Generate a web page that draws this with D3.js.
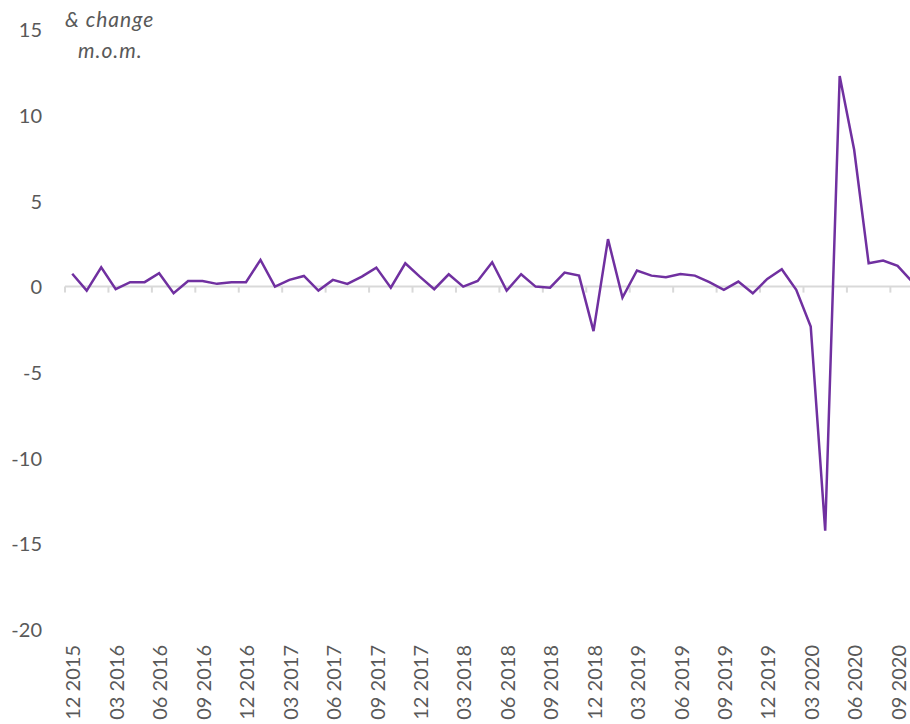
<!DOCTYPE html>
<meta charset="utf-8">
<title>% change m.o.m.</title>
<style>
    body {
        margin: 0;
        background: #fff;
    }

    .tick text {
        font-family: Lato, "Open Sans", sans-serif;
        font-size: 20px;
        fill: #595959;
    }

    .note {
        font-family: Lato, "Open Sans", sans-serif;
        font-size: 21px;
        font-style: italic;
        letter-spacing: 1px;
        fill: #595959;
    }
</style>

<body>
    <div id="chart"></div>

    <script src="https://cdn.jsdelivr.net/npm/d3@7"></script>
    <script>
        // monthly values, 12 2015 .. 10 2020
        var months = [
            "12 2015", "01 2016", "02 2016", "03 2016", "04 2016", "05 2016", "06 2016", "07 2016", "08 2016", "09 2016", "10 2016", "11 2016",
            "12 2016", "01 2017", "02 2017", "03 2017", "04 2017", "05 2017", "06 2017", "07 2017", "08 2017", "09 2017", "10 2017", "11 2017",
            "12 2017", "01 2018", "02 2018", "03 2018", "04 2018", "05 2018", "06 2018", "07 2018", "08 2018", "09 2018", "10 2018", "11 2018",
            "12 2018", "01 2019", "02 2019", "03 2019", "04 2019", "05 2019", "06 2019", "07 2019", "08 2019", "09 2019", "10 2019", "11 2019",
            "12 2019", "01 2020", "02 2020", "03 2020", "04 2020", "05 2020", "06 2020", "07 2020", "08 2020", "09 2020", "10 2020"
        ];
        var values = [
            0.75, -0.23, 1.13, -0.15, 0.26, 0.26, 0.78, -0.39, 0.33, 0.33, 0.16, 0.26,
            0.26, 1.56, 0.0, 0.39, 0.62, -0.23, 0.39, 0.16, 0.58, 1.11, -0.06, 1.36,
            0.58, -0.15, 0.72, 0.0, 0.33, 1.42, -0.23, 0.72, 0.0, -0.06, 0.82, 0.64,
            -2.6, 2.77, -0.64, 0.94, 0.64, 0.55, 0.74, 0.64, 0.26, -0.19, 0.29, -0.39,
            0.45, 1.01, -0.19, -2.33, -14.24, 12.29, 7.98, 1.36, 1.52, 1.21, 0.29
        ];
        var yTicks = [15, 10, 5, 0, -5, -10, -15, -20];

        var width = 910,
            height = 724;

        var svg = d3.select("#chart")
            .append("svg")
            .attr("width", width)
            .attr("height", height);

        // category positions: half a step of padding each side
        var x = d3.scaleLinear()
            .domain([-0.5, months.length - 0.5])
            .range([65, 65 + months.length * 14.48]);

        var y = d3.scaleLinear()
            .domain([-20, 15])
            .range([629.4, 29.5]);

        // y axis: labels only (plain hyphen minus like the original)
        var yAxis = svg.append("g")
            .attr("transform", "translate(42,0)")
            .call(d3.axisLeft(y)
                .tickValues(yTicks)
                .tickFormat(function(d) { return String(d); })
                .tickSize(0)
                .tickPadding(0));
        yAxis.select(".domain").remove();
        yAxis.selectAll(".tick text").attr("dy", "0.36em");

        // horizontal axis line at zero with ticks between every third month
        var tickIdx = d3.range(-0.5, months.length, 3);
        svg.append("line")
            .attr("x1", x(-0.5))
            .attr("x2", x(months.length - 0.5))
            .attr("y1", y(0))
            .attr("y2", y(0))
            .attr("stroke", "#d9d9d9")
            .attr("stroke-width", 2);
        svg.selectAll(".xtick")
            .data(tickIdx)
            .enter()
            .append("line")
            .attr("class", "xtick")
            .attr("x1", function(d) { return x(d); })
            .attr("x2", function(d) { return x(d); })
            .attr("y1", y(0))
            .attr("y2", y(0) + 6)
            .attr("stroke", "#d9d9d9")
            .attr("stroke-width", 2);

        // month labels, rotated, every third month
        var labelIdx = d3.range(0, months.length, 3);
        var xl = svg.append("g").attr("class", "xlabels");
        xl.selectAll("g")
            .data(labelIdx)
            .enter()
            .append("g")
            .attr("class", "tick")
            .attr("transform", function(d) {
                return "translate(" + (x(d) + 1) + ",645) rotate(-90)";
            })
            .append("text")
            .attr("text-anchor", "end")
            .attr("dy", "0.36em")
            .text(function(d) { return months[d]; });

        // the line
        var line = d3.line()
            .x(function(d, i) { return x(i); })
            .y(function(d) { return y(d); });

        svg.append("path")
            .datum(values)
            .attr("fill", "none")
            .attr("stroke", "#7030a0")
            .attr("stroke-width", 2.5)
            .attr("stroke-linejoin", "miter")
            .attr("d", line);

        // unit note
        svg.append("text")
            .attr("class", "note")
            .attr("x", 65)
            .attr("y", 27)
            .text("& change");
        svg.append("text")
            .attr("class", "note")
            .attr("x", 78)
            .attr("y", 58)
            .text("m.o.m.");
    </script>
</body>
